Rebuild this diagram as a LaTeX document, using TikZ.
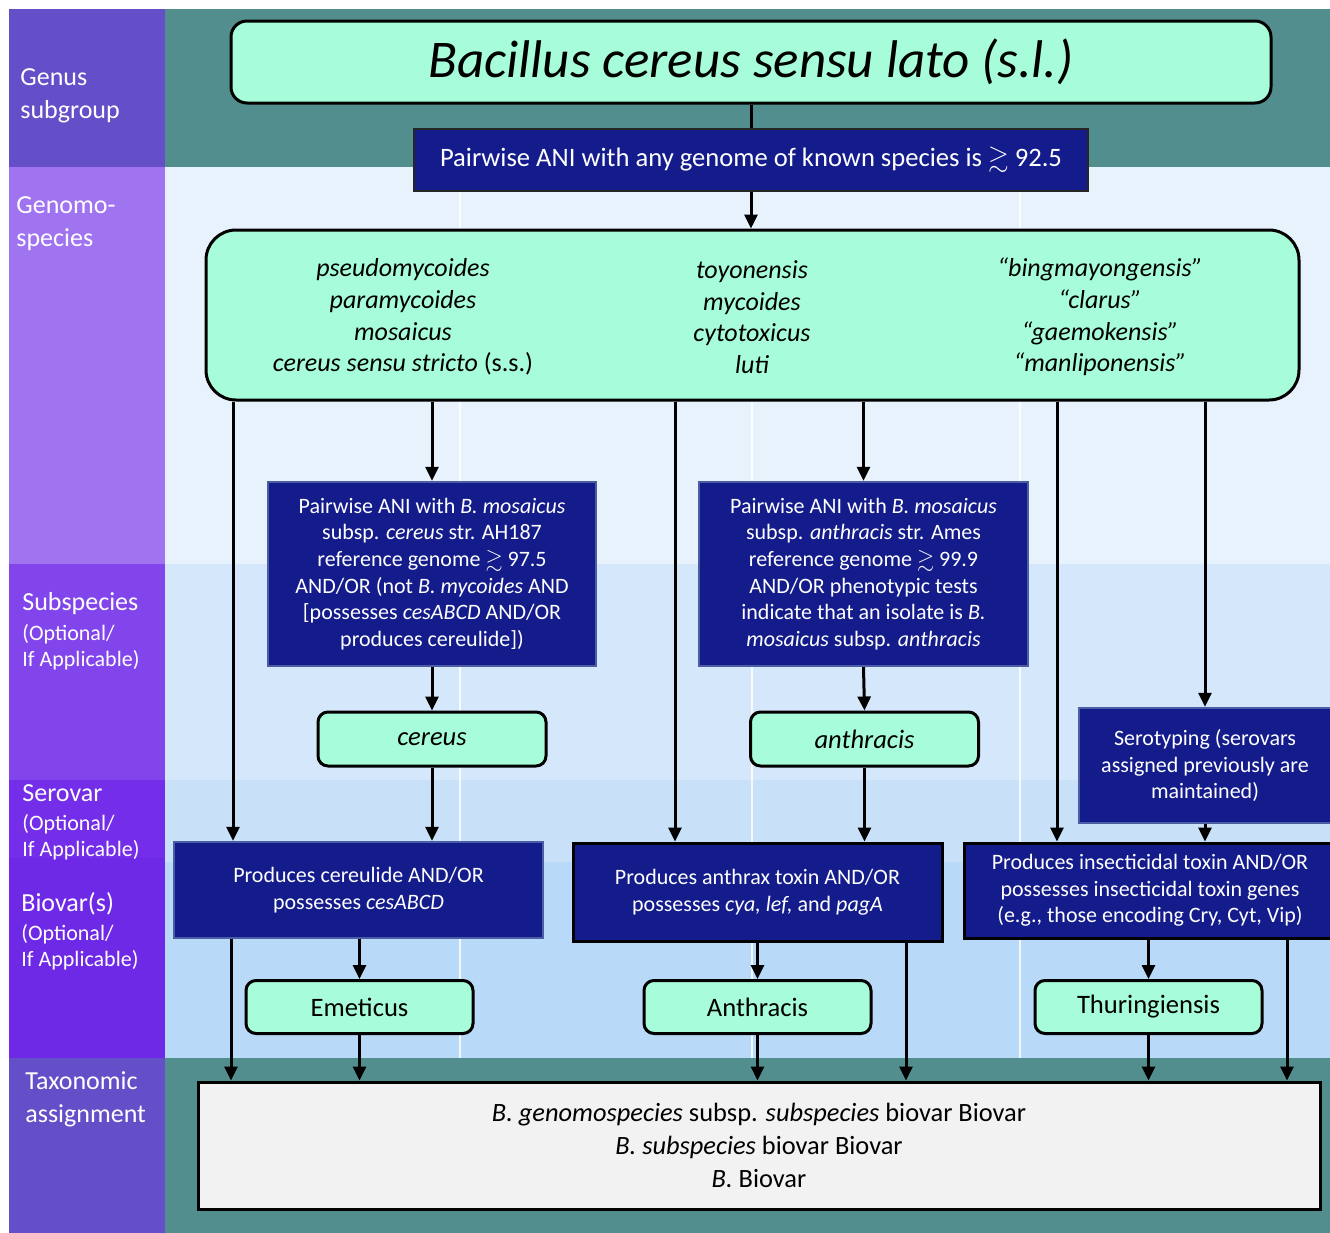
\documentclass[tikz,border=0pt]{standalone}
\usepackage{fontspec}
\setmainfont{Carlito}
\usepackage{amssymb}
\usetikzlibrary{arrows.meta}

\definecolor{mint}{HTML}{A7FDD9}
\definecolor{navy}{HTML}{141C8C}
\definecolor{navyedge}{HTML}{4B5DA5}
\definecolor{tealband}{HTML}{528E8E}
\definecolor{rowgenomo}{HTML}{E8F2FC}
\definecolor{rowsub}{HTML}{D5E8FB}
\definecolor{rowsero}{HTML}{C8E0F8}
\definecolor{rowbio}{HTML}{B9D9F9}
\definecolor{lblgenus}{HTML}{654FC9}
\definecolor{lblgenomo}{HTML}{A074F0}
\definecolor{lblsub}{HTML}{8245EC}
\definecolor{lblsero}{HTML}{742DE8}
\definecolor{lblbio}{HTML}{6E29E6}
\definecolor{taxfill}{HTML}{F2F2F2}

\begin{document}
\begin{tikzpicture}[x=0.5pt, y=-0.5pt,
    mintbox/.style={rectangle, draw=black, line width=1.5pt, fill=mint, rounded corners=5pt, inner sep=0pt, align=center},
    termbox/.style={mintbox, minimum width=113.5pt, minimum height=26.5pt, font=\fontsize{13.3}{16}\selectfont},
    navybox/.style={rectangle, draw=navyedge, line width=1.2pt, fill=navy, text=white, inner sep=0pt, align=center, font=\fontsize{11}{13.3}\selectfont},
    gstext/.style={align=center, inner sep=0pt, font=\fontsize{13}{15.8}\selectfont\itshape},
    lbl/.style={text=white, anchor=base west, align=left, inner sep=0pt, font=\fontsize{13}{16.3}\selectfont},
    lblsmall/.style={lbl, font=\fontsize{11}{13}\selectfont},
    line/.style={draw, line width=1.5pt, -{Triangle[length=7pt, width=6.5pt]}},
    gridline/.style={draw=white, line width=0.6pt, opacity=0.8}
]
    \useasboundingbox (0,0) rectangle (1330,1233);

    \fill[tealband] (165,9) rectangle (1330,167);
    \fill[rowgenomo] (165,167) rectangle (1330,564);
    \fill[rowsub] (165,564) rectangle (1330,780);
    \fill[rowsero] (165,780) rectangle (1330,862);
    \fill[rowbio] (165,862) rectangle (1330,1058);
    \fill[tealband] (165,1058) rectangle (1330,1233);
    \fill[lblgenus] (9,9) rectangle (165,167);
    \fill[lblgenomo] (9,167) rectangle (165,564);
    \fill[lblsub] (9,564) rectangle (165,780);
    \fill[lblsero] (9,780) rectangle (165,858);
    \fill[lblbio] (9,858) rectangle (165,1058);
    \fill[lblgenus] (9,1058) rectangle (165,1233);
    \draw[gridline] (460,167) -- (460,1058);
    \draw[gridline] (752,167) -- (752,1058);
    \draw[gridline] (1020,167) -- (1020,1058);

    \node [lbl] (lgenus) at (20,118) {Genus\\subgroup};
    \node [lbl] (lgenomo) at (16,246) {Genomo-\\species};
    \node [lbl] (lsub) at (22,610) {Subspecies};
    \node [lblsmall] (lsubopt) at (22,666) {(Optional/\\If Applicable)};
    \node [lbl] (lsero) at (22,801) {Serovar};
    \node [lblsmall] (lseroopt) at (22,856) {(Optional/\\If Applicable)};
    \node [lbl] (lbio) at (21,911) {Biovar(s)};
    \node [lblsmall] (lbioopt) at (21,966) {(Optional/\\If Applicable)};
    \node [lbl] (ltax) at (25,1122) {Taxonomic\\assignment};

    \node [mintbox, minimum width=520pt, minimum height=41pt, rounded corners=8pt, font=\fontsize{26.5}{30}\selectfont\itshape] (title) at (751,62) {Bacillus cereus sensu lato (s.l.)};
    \node [navybox, draw=black!85, line width=1pt, minimum width=337pt, minimum height=31pt, font=\fontsize{13.3}{15}\selectfont] (ani) at (751,160) {Pairwise ANI with any genome of known species is $\gtrsim$ 92.5};

    \node [mintbox, minimum width=546.5pt, minimum height=85pt, rounded corners=15pt] (gs) at (752.5,315) {};
    \node [gstext] (gsa) at (403,317) {pseudomycoides\\paramycoides\\mosaicus\\cereus sensu stricto \textup{(s.s.)}};
    \node [gstext] (gsb) at (752,317) {toyonensis\\mycoides\\cytotoxicus\\luti};
    \node [gstext] (gsc) at (1100,317) {“bingmayongensis”\\“clarus”\\“gaemokensis”\\“manliponensis”};

    \node [navybox, minimum width=164pt, minimum height=92pt] (anicer) at (432,574) {Pairwise ANI with \textit{B. mosaicus}\\subsp. \textit{cereus} str. AH187\\reference genome $\gtrsim$ 97.5\\AND/OR (not \textit{B. mycoides} AND\\{[}possesses \textit{cesABCD} AND/OR\\produces cereulide])};
    \node [navybox, minimum width=164.5pt, minimum height=92pt] (anithr) at (863.5,574) {Pairwise ANI with \textit{B. mosaicus}\\subsp. \textit{anthracis} str. Ames\\reference genome $\gtrsim$ 99.9\\AND/OR phenotypic tests\\indicate that an isolate is \textit{B.}\\\textit{mosaicus} subsp. \textit{anthracis}};

    \node [termbox, minimum width=114pt, minimum height=27pt] (cer) at (432,739) {\textit{cereus}};
    \node [termbox, minimum width=114pt, minimum height=27pt] (ant) at (864.5,739) {\textit{anthracis}};
    \node [navybox, minimum width=126pt, minimum height=57.5pt] (sero) at (1205,765.5) {Serotyping (serovars\\assigned previously are\\maintained)};

    \node [navybox, minimum width=184.5pt, minimum height=48pt] (pcer) at (358.5,890) {Produces cereulide AND/OR\\possesses \textit{cesABCD}};
    \node [navybox, draw=black, line width=1.5pt, minimum width=184.5pt, minimum height=49pt] (panth) at (757.5,892) {Produces anthrax toxin AND/OR\\possesses \textit{cya, lef,} and \textit{pagA}};
    \node [navybox, draw=black, line width=1.5pt, minimum width=186pt, minimum height=47.5pt] (pins) at (1150,890.5) {Produces insecticidal toxin AND/OR\\possesses insecticidal toxin genes\\(e.g., those encoding Cry, Cyt, Vip)};

    \node [termbox] (emet) at (359.5,1007) {Emeticus};
    \node [termbox] (anthr) at (757.5,1007) {Anthracis};
    \node [termbox] (thur) at (1148.5,1007) {Thuringiensis};

    \node [rectangle, draw=black, line width=1.5pt, fill=taxfill, inner sep=0pt, align=center, minimum width=561pt, minimum height=63.5pt, font=\fontsize{13.2}{16.3}\selectfont] (tax) at (759,1145.5) {\textit{B. genomospecies} subsp. \textit{subspecies} biovar Biovar\\\textit{B. subspecies} biovar Biovar\\\textit{B.} Biovar};

    \coordinate (bycer) at (233,0);
    \coordinate (byanth) at (675,0);
    \coordinate (byins) at (1057,0);
    \coordinate (taxcer) at (231,0);
    \coordinate (taxanth) at (906,0);
    \coordinate (taxins) at (1287,0);

    \draw [line width=1.5pt] (title) -- (ani);
    \draw [line] (ani.south) -- (ani.south |- gs.north);
    \draw [line] (gs.south -| bycer) -- (pcer.north -| bycer);
    \draw [line] (gs.south -| anicer) -- (anicer.north);
    \draw [line] (gs.south -| byanth) -- (panth.north -| byanth);
    \draw [line] (gs.south -| anithr) -- (anithr.north);
    \draw [line] (gs.south -| byins) -- (pins.north -| byins);
    \draw [line] (gs.south -| sero) -- (sero.north);
    \draw [line] (anicer.south) -- (cer.north);
    \draw [line] (anithr.south) -- (ant.north);
    \draw [line] (cer.south) -- (cer.south |- pcer.north);
    \draw [line] (ant.south) -- (ant.south |- panth.north);
    \draw [line] (sero.south) -- (sero.south |- pins.north);
    \draw [line] (pcer.south -| emet) -- (emet.north);
    \draw [line] (panth.south -| anthr) -- (anthr.north);
    \draw [line] (pins.south -| thur) -- (thur.north);
    \draw [line] (pcer.south -| taxcer) -- (tax.north -| taxcer);
    \draw [line] (emet.south) -- (emet.south |- tax.north);
    \draw [line] (anthr.south) -- (anthr.south |- tax.north);
    \draw [line] (panth.south -| taxanth) -- (tax.north -| taxanth);
    \draw [line] (thur.south) -- (thur.south |- tax.north);
    \draw [line] (pins.south -| taxins) -- (tax.north -| taxins);
\end{tikzpicture}
\end{document}
